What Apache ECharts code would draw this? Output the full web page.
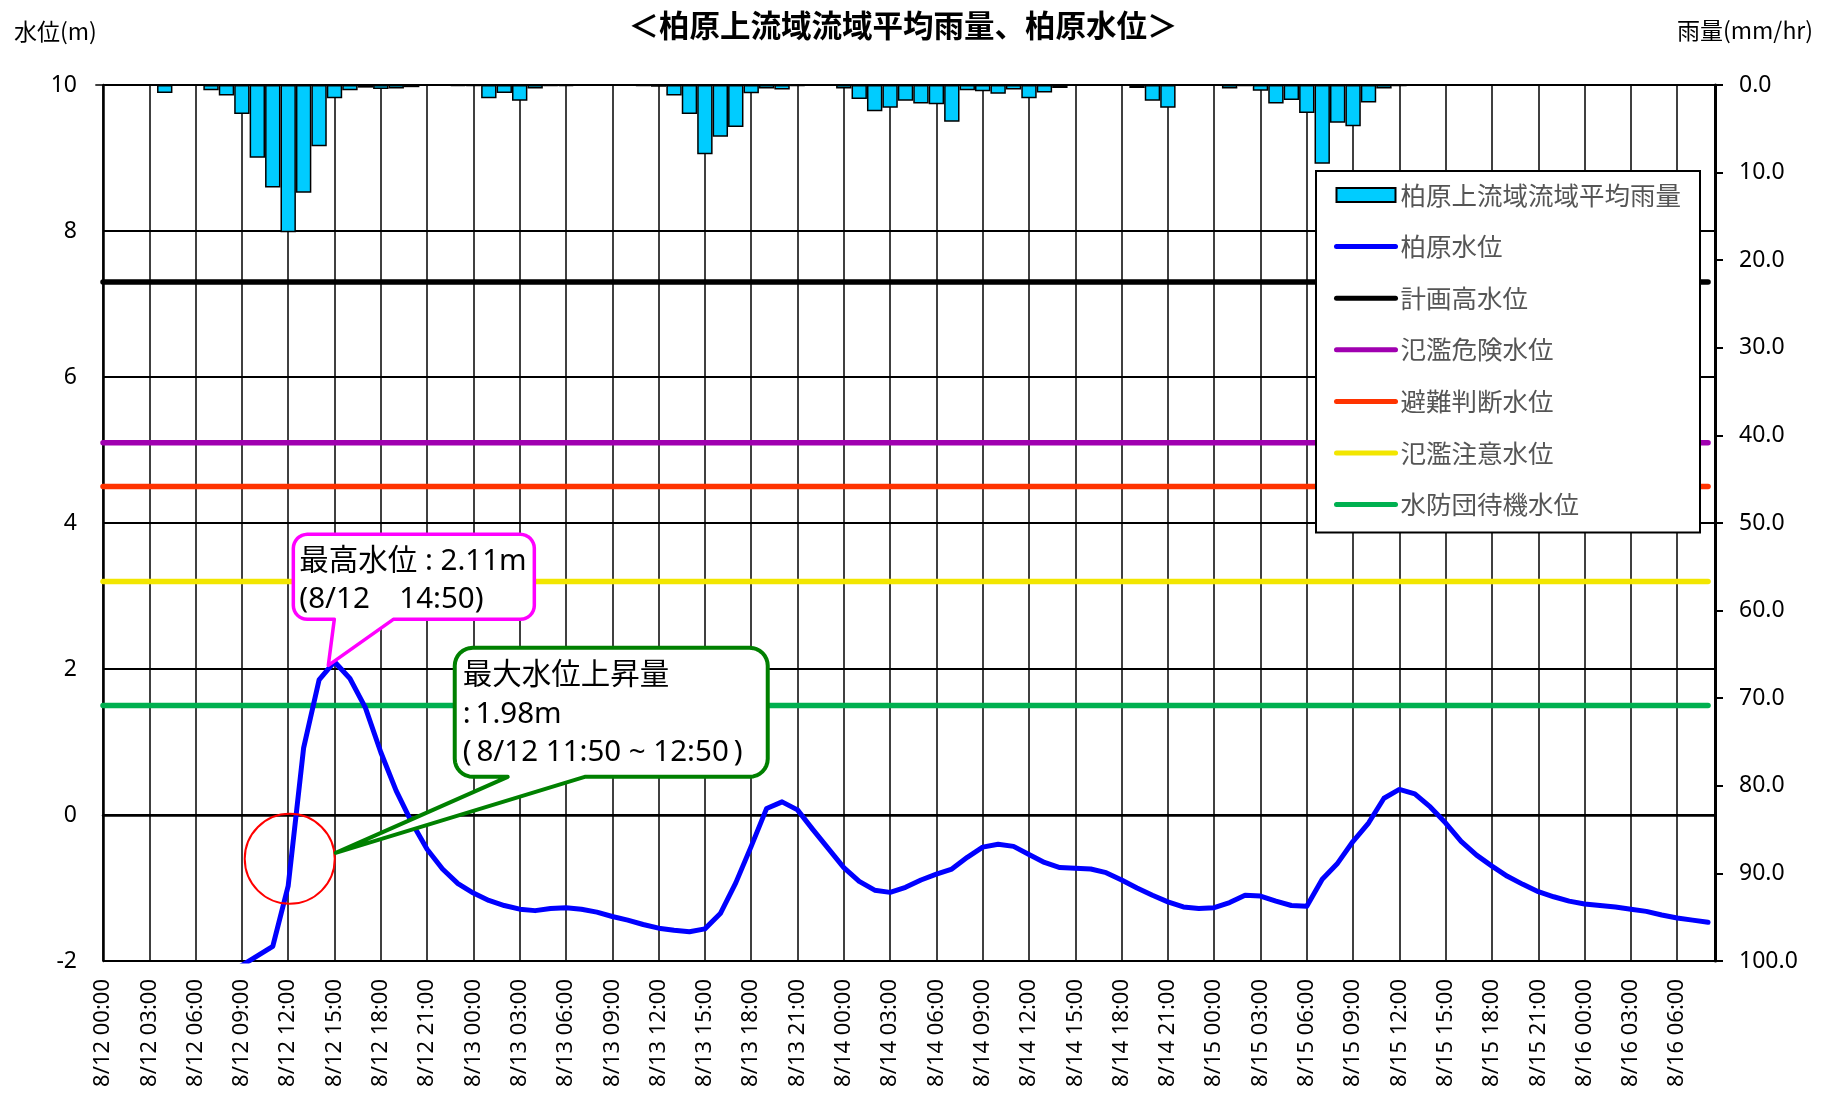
<!DOCTYPE html>
<html><head><meta charset="utf-8">
<script src="https://cdn.jsdelivr.net/npm/echarts@6/dist/echarts.min.js"></script>
<style>html,body{margin:0;padding:0;background:#fff}#c{width:1831px;height:1094px}</style>
</head><body><div id="c"></div>
<script>
// hourly time labels 8/12 00:00 ... 8/16 08:00
const times = [];
for (let d = 12; d <= 16; d++) for (let h = 0; h < 24; h++) { if (times.length < 105) times.push('8/' + d + ' ' + String(h).padStart(2, '0') + ':00'); }
const hours = times.map((t, i) => i);

// 柏原上流域流域平均雨量 (mm/hr), hourly
const rain = [
  0, 0, 0.05, 0.05, 0.9, 0, 0, 0.6, 1.2, 3.3,
  8.3, 11.7, 16.8, 12.3, 7.0, 1.5, 0.6, 0.3, 0.45, 0.4,
  0.25, 0.05, 0.05, 0.1, 0.1, 1.5, 0.9, 1.8, 0.4, 0.1,
  0.1, 0, 0, 0, 0.05, 0.1, 0.2, 1.2, 3.3, 7.9,
  5.9, 4.8, 0.95, 0.4, 0.5, 0.1, 0, 0.05, 0.4, 1.6,
  3.0, 2.6, 1.8, 2.1, 2.2, 4.2, 0.6, 0.7, 1.0, 0.5,
  1.5, 0.85, 0.35, 0, 0, 0, 0.05, 0.35, 1.8, 2.6,
  0, 0.05, 0.05, 0.4, 0.1, 0.65, 2.1, 1.7, 3.2, 9.0,
  4.3, 4.7, 2.0, 0.4, 0.1, 0, 0, 0, 0, 0,
  0, 0.05, 0.05, 0, 0, 0, 0, 0, 0, 0,
  0, 0, 0, 0, 0
];
// 柏原水位 (m), hourly
const level = [
  -2.2, -2.2, -2.2, -2.2, -2.2, -2.2, -2.2, -2.2, -2.2, -2.06,
  -1.93, -1.8, -0.97, 0.92, 1.85, 2.1, 1.87, 1.47, 0.86, 0.33,
  -0.1, -0.47, -0.74, -0.94, -1.07, -1.17, -1.24, -1.29, -1.31, -1.28,
  -1.27, -1.29, -1.33, -1.39, -1.44, -1.5, -1.55, -1.58, -1.6, -1.56,
  -1.35, -0.93, -0.43, 0.09, 0.18, 0.07, -0.2, -0.46, -0.72, -0.91,
  -1.03, -1.06, -0.99, -0.89, -0.81, -0.74, -0.58, -0.44, -0.40, -0.43,
  -0.54, -0.65, -0.72, -0.73, -0.74, -0.79, -0.89, -1.0, -1.1, -1.19,
  -1.26, -1.28, -1.27, -1.20, -1.10, -1.11, -1.18, -1.24, -1.25, -0.88,
  -0.66, -0.36, -0.11, 0.23, 0.35, 0.29, 0.11, -0.11, -0.36, -0.55,
  -0.70, -0.84, -0.95, -1.05, -1.12, -1.18, -1.22, -1.24, -1.26, -1.29,
  -1.32, -1.37, -1.41, -1.44, -1.47
];
// reference water levels (m)
const thresholdNames = ['計画高水位', '氾濫危険水位', '避難判断水位', '氾濫注意水位', '水防団待機水位'];
const thresholdValues = [7.3, 5.1, 4.5, 3.2, 1.5];
const thresholdColors = ['#000000', '#a000b0', '#ff3300', '#f2e600', '#00b050'];
// y axis ticks
const levelTicks = { min: -2, max: 10, interval: 2 };
const rainTicks = { min: 0, max: 100, interval: 10 };
const xMax = 104.45;

// annotations
const peakText = ['最高水位 : 2.11m', '(8/12\u300014:50)'];
const peakPoint = [14.6, 2.05];
const riseText = ['最大水位上昇量', ':\u20091.98m', '(\u20098/12 11:50 ~ 12:50\u2009)'];
const risePoint = [12.1, -0.6];

const FONT = "'Noto Sans CJK JP', 'Noto Sans', sans-serif";
const NUMFONT = "'Noto Sans', 'Noto Sans CJK JP', sans-serif";
const chart = echarts.init(document.getElementById('c'), null, { renderer: 'canvas' });

const series = [];
thresholdNames.forEach((n, i) => {
  series.push({
    name: n, type: 'line', yAxisIndex: 0, symbol: 'none', silent: true,
    lineStyle: { color: thresholdColors[i], width: 5.5, cap: 'round' },
    itemStyle: { color: thresholdColors[i] },
    data: [[hours[0], thresholdValues[i]], [hours[hours.length - 1], thresholdValues[i]]],
    z: 3
  });
});
series.push({
  name: '柏原上流域流域平均雨量', type: 'bar', yAxisIndex: 1, barWidth: 15.4,
  itemStyle: { color: '#00ccff', borderColor: '#000', borderWidth: 1.5 },
  data: hours.map((h, i) => [h, rain[i]]), z: 4
});
series.push({
  name: '柏原水位', type: 'line', yAxisIndex: 0, symbol: 'none',
  lineStyle: { color: '#0000ff', width: 5, cap: 'round', join: 'round' },
  itemStyle: { color: '#0000ff' },
  data: hours.map((h, i) => [h, level[i]]), z: 5, clip: true
});

const lineLegend = n => ({ name: n, itemStyle: { opacity: 0 }, lineStyle: { width: 5, cap: 'round' } });

chart.setOption({
  animation: false,
  backgroundColor: '#fff',
  textStyle: { fontFamily: FONT },
  title: {
    text: '＜柏原上流域流域平均雨量、柏原水位＞', left: 898, top: 5, textAlign: 'center',
    textStyle: { fontSize: 30.5, fontWeight: 'bold', color: '#000', fontFamily: FONT }
  },
  grid: { left: 103, right: 116, top: 85, bottom: 133 },
  legend: {
    orient: 'vertical', left: 1316, top: 171,
    backgroundColor: '#fff', borderColor: '#000', borderWidth: 2,
    padding: [11, 19, 15, 18], itemGap: 25.6, itemWidth: 59, itemHeight: 14,
    textStyle: { fontSize: 25.5, color: '#555555', fontFamily: FONT, lineHeight: 26 },
    data: [
      { name: '柏原上流域流域平均雨量', icon: 'rect' },
      lineLegend('柏原水位'), lineLegend('計画高水位'), lineLegend('氾濫危険水位'),
      lineLegend('避難判断水位'), lineLegend('氾濫注意水位'), lineLegend('水防団待機水位')
    ]
  },
  xAxis: {
    type: 'value', min: 0, max: xMax, interval: 3,
    axisLine: { show: true, lineStyle: { color: '#000', width: 2.5 } },
    axisTick: { show: false },
    splitLine: { show: true, lineStyle: { color: '#000', width: 1.5 } },
    axisLabel: {
      rotate: 90, margin: 18, fontSize: 22, color: '#000', fontFamily: NUMFONT,
      showMaxLabel: false, formatter: v => times[Math.round(v)] || ''
    }
  },
  yAxis: [{
    type: 'value', min: levelTicks.min, max: levelTicks.max, interval: levelTicks.interval,
    position: 'left',
    axisLine: { show: true, lineStyle: { color: '#000', width: 2.5 } },
    axisTick: { show: false },
    splitLine: { show: true, lineStyle: { color: '#000', width: 2 } },
    axisLabel: { margin: 26, fontSize: 23, color: '#000', fontFamily: NUMFONT }
  }, {
    type: 'value', min: rainTicks.min, max: rainTicks.max, interval: rainTicks.interval,
    inverse: true, position: 'right',
    axisLine: { show: true, lineStyle: { color: '#000', width: 3 } },
    axisTick: { show: true, inside: false, length: 8, lineStyle: { color: '#000', width: 2 } },
    splitLine: { show: false },
    axisLabel: { margin: 24, fontSize: 23, color: '#000', fontFamily: NUMFONT, formatter: v => v.toFixed(1) }
  }],
  series: series
});

function corner(pts, cx, cy, r, a0, a1) {
  const n = 8;
  for (let k = 0; k <= n; k++) {
    const a = (a0 + (a1 - a0) * k / n) * Math.PI / 180;
    pts.push([cx + r * Math.cos(a), cy + r * Math.sin(a)]);
  }
}
function bubble(x0, y0, x1, y1, r, bA, bB, tx, ty) {
  const pts = [];
  corner(pts, x1 - r, y0 + r, r, -90, 0);
  corner(pts, x1 - r, y1 - r, r, 0, 90);
  pts.push([bB, y1], [tx, ty], [bA, y1]);
  corner(pts, x0 + r, y1 - r, r, 90, 180);
  corner(pts, x0 + r, y0 + r, r, 180, 270);
  return pts;
}

const pk = chart.convertToPixel({ gridIndex: 0 }, peakPoint);
const rc = chart.convertToPixel({ gridIndex: 0 }, risePoint);
const rTip = [rc[0] + 46, rc[1] - 6];
const graphics = [
  { type: 'text', x: 14, y: 20, style: { text: '水位(m)', fontSize: 23, fill: '#000', fontFamily: FONT }, z: 10 },
  { type: 'text', x: 1677, y: 19, style: { text: '雨量(mm/hr)', fontSize: 23, fill: '#000', fontFamily: FONT }, z: 10 },
  { type: 'ellipse', shape: { cx: rc[0], cy: rc[1], rx: 45, ry: 45 }, style: { fill: 'none', stroke: '#ff0000', lineWidth: 2 }, z: 20 },
  {
    type: 'polygon', shape: { points: bubble(pk[0] - 35, pk[1] - 131, pk[0] + 206, pk[1] - 46, 14, pk[0] + 6, pk[0] + 65, pk[0], pk[1]) },
    style: { fill: '#fff', stroke: '#ff00ff', lineWidth: 3.5, lineJoin: 'round' }, z: 20
  },
  {
    type: 'text', x: pk[0] - 29, y: pk[1] - 123,
    style: { text: peakText.join('\n'), fontSize: 29.5, lineHeight: 38, fill: '#000', fontFamily: NUMFONT }, z: 21
  },
  {
    type: 'polygon', shape: { points: bubble(rTip[0] + 119, rTip[1] - 205, rTip[0] + 432, rTip[1] - 76, 18, rTip[0] + 172, rTip[0] + 249, rTip[0], rTip[1]) },
    style: { fill: '#fff', stroke: '#008000', lineWidth: 4, lineJoin: 'round' }, z: 20
  },
  {
    type: 'text', x: rTip[0] + 127, y: rTip[1] - 196,
    style: { text: riseText.join('\n'), fontSize: 29.5, lineHeight: 38.5, fill: '#000', fontFamily: NUMFONT }, z: 21
  }
];
chart.setOption({ graphic: graphics });
</script></body></html>
